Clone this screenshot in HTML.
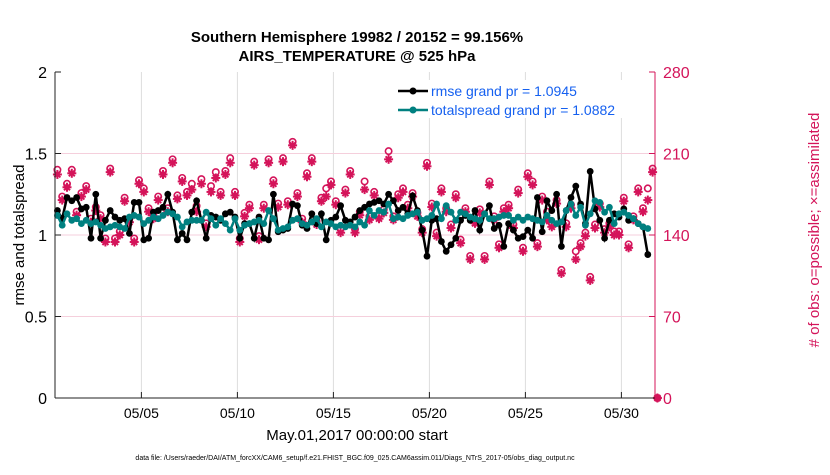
<!DOCTYPE html>
<html><head><meta charset="utf-8"><style>
body{margin:0;background:#fff;}
svg text{font-family:"Liberation Sans",sans-serif;}
</style></head><body>
<svg id="chart" width="830" height="470" xmlns="http://www.w3.org/2000/svg">
<rect x="0" y="0" width="830" height="470" fill="#fff"/>
<g id="grid"></g>
<g id="obs"></g>
<g id="series"></g>
<g id="axes"></g>
<text x="357" y="42" text-anchor="middle" font-size="15" font-weight="bold">Southern Hemisphere 19982 / 20152 = 99.156%</text>
<text x="357" y="61" text-anchor="middle" font-size="15" font-weight="bold">AIRS_TEMPERATURE @ 525 hPa</text>
<text transform="translate(24,235) rotate(-90)" text-anchor="middle" font-size="15">rmse and totalspread</text>
<text transform="translate(819,230) rotate(-90)" text-anchor="middle" font-size="15" fill="#d4145a"># of obs: o=possible; ×=assimilated</text>
<text x="357" y="440" text-anchor="middle" font-size="15">May.01,2017 00:00:00 start</text>
<text x="355" y="460" text-anchor="middle" font-size="7">data file: /Users/raeder/DAI/ATM_forcXX/CAM6_setup/f.e21.FHIST_BGC.f09_025.CAM6assim.011/Diags_NTrS_2017-05/obs_diag_output.nc</text>
<g id="legend">
<rect x="393" y="80" width="252" height="38" fill="#fff"/>
</g>
</svg>
<script>
const rmse=[1.15,1.10,1.23,1.21,1.23,1.16,1.17,0.98,1.25,0.98,1.09,1.15,1.11,1.09,1.10,1.01,1.20,1.20,0.97,0.98,1.14,1.15,1.17,1.25,1.14,0.97,1.01,0.97,1.14,1.21,1.09,0.98,1.12,1.11,1.09,1.13,1.14,1.11,0.98,1.07,1.07,0.98,
1.11,0.98,0.97,1.25,1.02,1.03,1.04,1.19,1.18,1.06,1.04,1.13,1.07,1.13,0.97,1.09,1.11,1.18,1.09,1.08,1.11,1.15,1.17,1.19,1.20,1.21,1.19,1.25,1.21,1.15,1.17,1.13,1.24,1.15,1.03,0.87,1.09,1.10,0.96,0.90,0.94,
0.98,1.09,1.12,1.09,1.15,1.03,1.13,1.18,1.04,1.06,0.93,1.07,1.03,0.98,0.99,1.03,0.98,1.23,1.02,1.21,1.15,1.25,0.93,1.15,1.23,1.30,1.19,1.07,1.39,1.16,1.09,0.98,1.09,1.13,1.11,1.16,1.09,1.10,1.07,1.05,0.88];
const spread=[1.12,1.06,1.13,1.09,1.10,1.07,1.09,1.07,1.08,1.06,1.04,1.05,1.06,1.05,1.04,1.11,1.12,1.11,1.07,1.09,1.11,1.10,1.12,1.14,1.13,1.11,1.05,1.08,1.09,1.09,1.09,1.14,1.10,1.06,1.10,1.07,1.03,1.10,1.03,1.06,1.07,1.08,
1.09,1.07,1.15,1.10,1.03,1.04,1.05,1.09,1.10,1.07,1.06,1.08,1.10,1.05,1.08,1.07,1.05,1.06,1.05,1.06,1.05,1.08,1.06,1.15,1.12,1.15,1.14,1.19,1.10,1.11,1.10,1.12,1.13,1.14,1.09,1.10,1.12,1.19,1.10,1.18,1.14,
1.09,1.14,1.13,1.11,1.10,1.09,1.13,1.10,1.10,1.11,1.12,1.12,1.09,1.11,1.09,1.11,1.10,1.09,1.08,1.12,1.09,1.07,1.08,1.15,1.19,1.12,1.17,1.06,1.13,1.21,1.20,1.14,1.17,1.07,1.13,1.14,1.12,1.10,1.07,1.05,1.04];
const assimilated=[192,170,181,193,157,173,179,151,161,154,134,194,134,140,169,151,134,184,177,160,154,170,192,160,202,171,186,174,179,160,184,147,177,189,174,192,202,174,134,156,163,200,
136,163,202,184,164,203,166,217,173,151,190,203,149,169,173,183,166,142,176,192,142,157,179,153,174,154,159,205,153,172,177,163,173,156,142,199,164,139,177,160,146,172,
133,160,119,150,159,119,183,153,129,160,163,146,176,126,190,183,130,170,153,147,167,107,147,163,119,130,139,101,146,164,142,147,140,140,169,129,153,177,160,170,194,0];
const possible=[196,173,184,196,160,176,182,154,164,157,137,197,137,143,172,154,137,187,180,163,157,173,195,163,205,174,189,177,184,165,188,150,182,194,177,195,206,177,137,159,166,203,
139,166,205,187,167,206,169,220,176,154,193,206,152,172,180,186,169,145,179,195,145,160,186,156,177,157,162,212,156,175,180,166,176,159,145,202,167,142,180,163,149,175,
136,163,122,153,162,122,186,156,132,163,166,149,179,129,193,186,133,173,160,150,170,110,150,166,126,133,142,104,149,167,145,150,143,143,172,132,156,180,163,180,197,0];
const xTickDays=[5,10,15,20,25,30];
const xTickLabels=['05/05','05/10','05/15','05/20','05/25','05/30'];
const yTicks=[0,0.5,1,1.5,2];
const yTickLabels=['0','0.5','1','1.5','2'];
const y2Ticks=[0,70,140,210,280];
const legendLabels=['rmse grand pr = 1.0945','totalspread grand pr = 1.0882'];

const NS='http://www.w3.org/2000/svg';
const X0=55,X1=655,Y0=398,Y1=72,D0=0.5,D1=31.75;
const xs=d=>X0+(d-D0)/(D1-D0)*(X1-X0);
const ys=v=>Y0-v/2*(Y0-Y1);
const ys2=c=>Y0-c/280*(Y0-Y1);
const dayOf=i=>0.625+i*0.25;
function el(tag,attrs,parent){const e=document.createElementNS(NS,tag);for(const k in attrs)e.setAttribute(k,attrs[k]);parent.appendChild(e);return e;}
const grid=document.getElementById('grid'),axes=document.getElementById('axes'),obs=document.getElementById('obs'),series=document.getElementById('series'),legend=document.getElementById('legend');
const MAG='#d4145a';
xTickDays.forEach((d,i)=>{
  const g=el('line',{x1:xs(d),x2:xs(d),y1:Y1,y2:Y0,stroke:'#dcdcdc','stroke-width':1},grid);
  
  
  const t=el('line',{x1:xs(d),x2:xs(d),y1:Y0,y2:Y0-6,stroke:'#222'},axes);
  
  
  const tx=el('text',{x:xs(d),y:Y0+20,'text-anchor':'middle','font-size':14},axes);
  tx.textContent=xTickLabels[i];
  
  
});
yTicks.forEach((v,i)=>{
  if(v>0&&v<2){const g=el('line',{x1:X0,x2:X1,y1:ys(v),y2:ys(v),stroke:'#f5cfdc','stroke-width':1},grid);
  
  }
  const t=el('line',{x1:X0,x2:X0+6,y1:ys(v),y2:ys(v),stroke:'#222'},axes);
  
  
  const tx=el('text',{x:X0-8,y:ys(v)+6,'text-anchor':'end','font-size':16},axes);
  tx.textContent=yTickLabels[i];
  
  
});
y2Ticks.forEach(c=>{
  const t=el('line',{x1:X1-6,x2:X1,y1:ys2(c),y2:ys2(c),stroke:MAG},axes);
  
  
  const tx=el('text',{x:X1+8,y:ys2(c)+6,'font-size':16,fill:MAG},axes);
  tx.textContent=String(c);
  
  
});
const la=el('line',{x1:X0,x2:X0,y1:Y1,y2:Y0,stroke:'#222'},axes);


const ra=el('line',{x1:X1,x2:X1,y1:Y1,y2:Y0,stroke:MAG},axes);


const ba=el('line',{x1:X0,x2:X1,y1:Y0,y2:Y0,stroke:'#222'},axes);



function star(cx,cy,parent){
  const g=el('g',{stroke:MAG,'stroke-width':2},parent);
  
  
  const r=4.5;
  el('line',{x1:cx-r,x2:cx+r,y1:cy,y2:cy},g);
  el('line',{x1:cx,x2:cx,y1:cy-r,y2:cy+r},g);
  el('line',{x1:cx-3,x2:cx+3,y1:cy-3,y2:cy+3},g);
  el('line',{x1:cx-3,x2:cx+3,y1:cy+3,y2:cy-3},g);
}
possible.forEach((c,i)=>{
  const o=el('circle',{cx:xs(dayOf(i)),cy:ys2(c),r:3.2,fill:'none',stroke:MAG,'stroke-width':1.6},obs);
  
  
});
assimilated.forEach((c,i)=>star(xs(dayOf(i)),ys2(c),obs));

function drawSeries(vals,color,name){
  const pts=vals.map((v,i)=>xs(dayOf(i)).toFixed(1)+','+ys(v).toFixed(1)).join(' ');
  const p=el('polyline',{points:pts,fill:'none',stroke:color,'stroke-width':2.5},series);
  
  
  vals.forEach((v,i)=>{
    const c=el('circle',{cx:xs(dayOf(i)),cy:ys(v),r:3.4,fill:color},series);
    
    
  });
}
drawSeries(rmse,'#000','rmse');
drawSeries(spread,'#008080','spread');

const lc=['#000','#008080'];
legendLabels.forEach((lab,i)=>{
  const y=91+i*19;
  const l=el('line',{x1:398,x2:428,y1:y,y2:y,stroke:lc[i],'stroke-width':2.5},legend);
  
  
  const m=el('circle',{cx:413,cy:y,r:3.5,fill:lc[i]},legend);
  
  
  const t=el('text',{x:431,y:y+5,'font-size':14,fill:'#1560f0'},legend);
  t.textContent=lab;
  
  
});
</script>
</body></html>
